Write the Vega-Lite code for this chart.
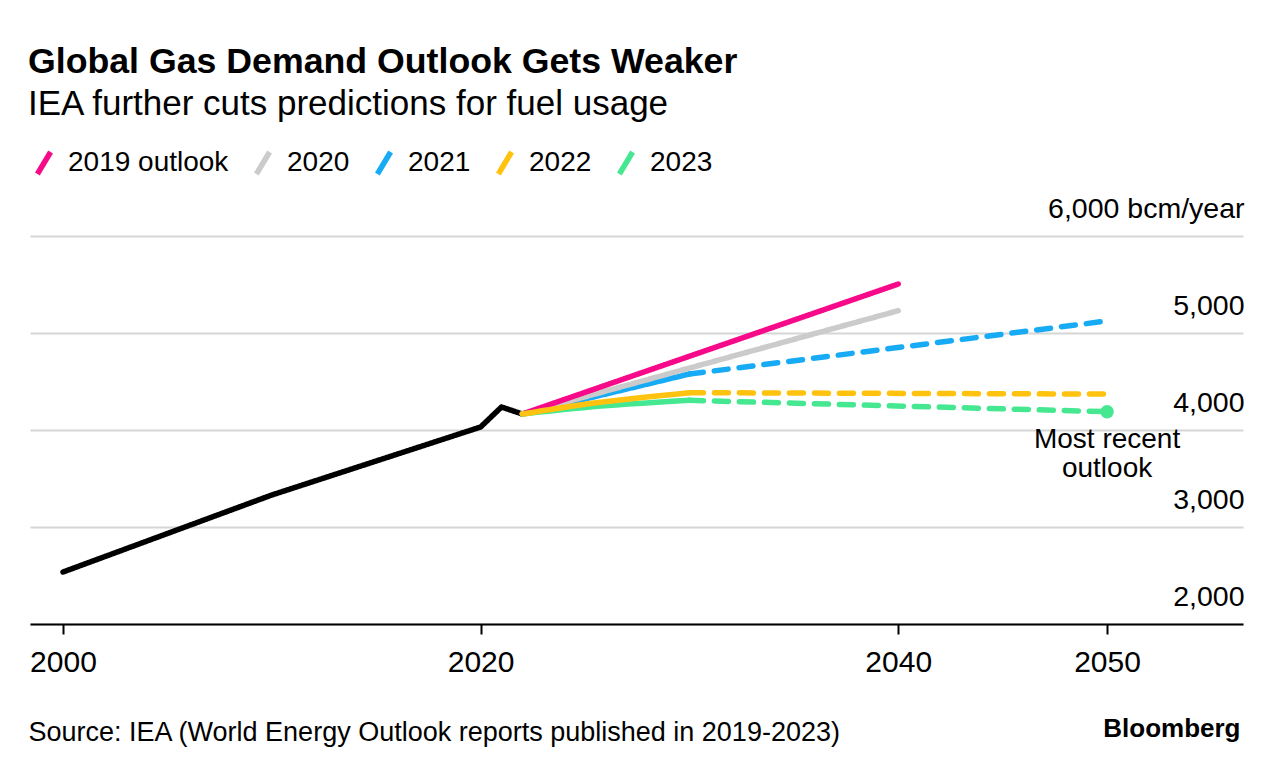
{
  "$schema": "https://vega.github.io/schema/vega-lite/v6.json",
  "width": 1213,
  "height": 388,
  "autosize": {"type": "none"},
  "padding": {"left": 30, "top": 236, "right": 36, "bottom": 148},
  "background": "white",
  "title": {
    "text": "Global Gas Demand Outlook Gets Weaker",
    "subtitle": "IEA further cuts predictions for fuel usage",
    "anchor": "start",
    "frame": "group",
    "dx": -2,
    "offset": 26,
    "font": "Liberation Sans",
    "fontSize": 35.7,
    "fontWeight": "bold",
    "color": "#000000",
    "subtitleFont": "Liberation Sans",
    "subtitleFontSize": 35,
    "subtitleColor": "#000000",
    "subtitlePadding": 6
  },
  "datasets": {
    "straight": [
      {"series": "Historical", "part": "solid", "year": 2000, "value": 2536},
      {"series": "Historical", "part": "solid", "year": 2010, "value": 3330},
      {"series": "Historical", "part": "solid", "year": 2020, "value": 4031},
      {"series": "Historical", "part": "solid", "year": 2021, "value": 4237},
      {"series": "Historical", "part": "solid", "year": 2022, "value": 4165},
      {"series": "2023", "part": "dashed", "year": 2030, "value": 4306},
      {"series": "2023", "part": "dashed", "year": 2050, "value": 4189},
      {"series": "2022", "part": "dashed", "year": 2030, "value": 4385},
      {"series": "2022", "part": "dashed", "year": 2050, "value": 4370},
      {"series": "2021", "part": "solid", "year": 2022, "value": 4165},
      {"series": "2021", "part": "solid", "year": 2030, "value": 4577},
      {"series": "2021", "part": "dashed", "year": 2030, "value": 4577},
      {"series": "2021", "part": "dashed", "year": 2050, "value": 5124},
      {"series": "2020", "part": "solid", "year": 2022, "value": 4165},
      {"series": "2020", "part": "solid", "year": 2040, "value": 5230},
      {"series": "2019 outlook", "part": "solid", "year": 2022, "value": 4165},
      {"series": "2019 outlook", "part": "solid", "year": 2040, "value": 5505}
    ],
    "curved": [
      {"series": "2023", "part": "solid", "year": 2022, "value": 4165},
      {"series": "2023", "part": "solid", "year": 2025, "value": 4232},
      {"series": "2023", "part": "solid", "year": 2030, "value": 4306},
      {"series": "2022", "part": "solid", "year": 2022, "value": 4165},
      {"series": "2022", "part": "solid", "year": 2025, "value": 4266},
      {"series": "2022", "part": "solid", "year": 2030, "value": 4385}
    ],
    "notes": [
      {"series": "2023", "year": 2050, "value": 4189, "label": "Most recent\noutlook"}
    ]
  },
  "encoding": {
    "x": {
      "field": "year",
      "type": "quantitative",
      "scale": {"domain": [1998.42, 2056.51], "nice": false, "zero": false},
      "axis": {
        "values": [2000, 2020, 2040, 2050],
        "format": "d",
        "title": "Source: IEA (World Energy Outlook reports published in 2019-2023)",
        "titleX": -2,
        "titleY": 116,
        "titleAlign": "left",
        "titleAnchor": "start",
        "titleBaseline": "alphabetic",
        "titleFont": "Liberation Sans",
        "titleFontSize": 27,
        "titleFontWeight": "normal",
        "titleColor": "#000000",
        "titleLimit": 1000,
        "grid": false,
        "domain": true,
        "domainColor": "#000000",
        "domainWidth": 2,
        "ticks": true,
        "tickColor": "#000000",
        "tickWidth": 2,
        "tickSize": 10,
        "labelPadding": 13,
        "labelFont": "Liberation Sans",
        "labelFontSize": 30,
        "labelColor": "#000000"
      }
    },
    "y": {
      "field": "value",
      "type": "quantitative",
      "scale": {"domain": [2000, 6000], "nice": false, "zero": false},
      "axis": {
        "orient": "right",
        "values": [2000, 3000, 4000, 5000, 6000],
        "labelExpr": "datum.value == 6000 ? '6,000 bcm/year' : format(datum.value, ',')",
        "domain": false,
        "ticks": false,
        "tickSize": 0,
        "grid": true,
        "gridColor": "#d6d6d6",
        "gridWidth": 2,
        "labelAlign": "right",
        "labelBaseline": "alphabetic",
        "labelOffset": -19,
        "labelPadding": 1,
        "labelLimit": 400,
        "labelFont": "Liberation Sans",
        "labelFontSize": 28.5,
        "labelColor": "#000000",
        "title": "Bloomberg",
        "titleAngle": 0,
        "titleX": -3,
        "titleY": 500,
        "titleAlign": "right",
        "titleBaseline": "alphabetic",
        "titleFont": "Liberation Sans",
        "titleFontSize": 26,
        "titleFontWeight": "bold",
        "titleColor": "#000000"
      }
    },
    "color": {
      "field": "series",
      "type": "nominal",
      "scale": {
        "domain": ["2019 outlook", "2020", "2021", "2022", "2023", "Historical"],
        "range": ["#f70a8a", "#cbcbcb", "#17aaf5", "#ffc20e", "#45e891", "#000000"]
      },
      "legend": {
        "values": ["2019 outlook", "2020", "2021", "2022", "2023"],
        "orient": "none",
        "legendX": 0,
        "legendY": -87,
        "direction": "horizontal",
        "title": null,
        "padding": 0,
        "symbolType": "M-0.6,1L0.6,-1",
        "symbolSize": 484,
        "symbolStrokeWidth": 5.5,
        "labelOffset": 10,
        "columnPadding": 16,
        "labelLimit": 400,
        "labelFont": "Liberation Sans",
        "labelFontSize": 28,
        "labelColor": "#000000"
      }
    }
  },
  "layer": [
    {
      "data": {"name": "straight"},
      "mark": {"type": "line", "strokeWidth": 5.5, "strokeCap": "round", "strokeJoin": "round"},
      "encoding": {
        "strokeDash": {
          "field": "part",
          "type": "nominal",
          "scale": {"domain": ["solid", "dashed"], "range": [[1, 0], [14, 11]]},
          "legend": null
        },
        "detail": {"field": "part"}
      }
    },
    {
      "data": {"name": "curved"},
      "mark": {"type": "line", "strokeWidth": 5.5, "strokeCap": "round", "strokeJoin": "round", "interpolate": "monotone"},
      "encoding": {}
    },
    {
      "data": {"name": "notes"},
      "mark": {"type": "point", "filled": true, "size": 180, "opacity": 1, "color": "#45e891"},
      "encoding": {"color": {"value": "#45e891"}}
    },
    {
      "data": {"name": "notes"},
      "mark": {"type": "text", "align": "center", "baseline": "alphabetic", "dy": 36, "lineBreak": "\n", "lineHeight": 29, "font": "Liberation Sans", "fontSize": 28, "color": "#000000"},
      "encoding": {"text": {"field": "label"}, "color": {"value": "#000000"}}
    }
  ],
  "config": {
    "view": {"stroke": null},
    "font": "Liberation Sans"
  }
}
